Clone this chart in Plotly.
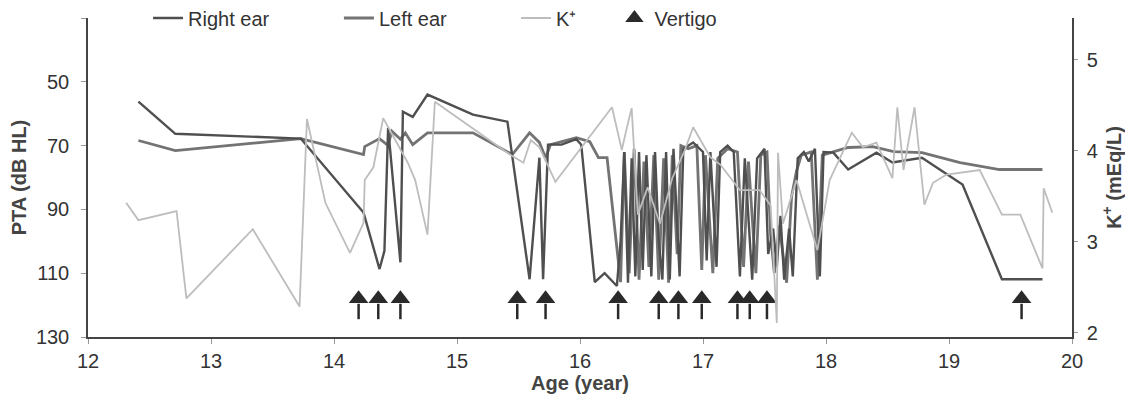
import plotly.graph_objects as go

# ---------------- data ----------------
RIGHT_AGE = [12.41, 12.71, 13.73, 14.24, 14.37, 14.41, 14.44, 14.54, 14.56, 14.64, 14.76, 15.13, 15.41,
             15.59, 15.67, 15.70, 15.74, 15.85, 15.97, 16.01, 16.12, 16.20, 16.30,
             16.33, 16.36, 16.39, 16.42, 16.45, 16.48, 16.51, 16.54, 16.58, 16.61, 16.64, 16.67, 16.70,
             16.73, 16.76, 16.81, 16.84, 16.92, 17.00, 17.03, 17.06, 17.11, 17.14, 17.20, 17.25, 17.30,
             17.34, 17.40, 17.44, 17.50, 17.53, 17.57, 17.60, 17.63, 17.66, 17.70, 17.73, 17.77, 17.82,
             17.86, 17.91, 17.95, 17.98, 18.06, 18.18, 18.41, 18.54, 18.78, 19.11, 19.43, 19.76]
RIGHT_PTA = [56.2, 66.3, 67.8, 91, 108.7, 103, 64.4, 106.6, 59.4, 61, 54, 60.3, 62.5,
             111.9, 73.8, 111.9, 69.7, 69.7, 68, 69.7, 112.8, 110, 114,
             100, 72, 113, 74, 111, 72, 109, 73, 111, 72, 100, 112, 72,
             112, 71, 111, 71, 69, 72, 106, 72, 108, 72, 70, 72, 111,
             74, 112, 74, 71, 104, 96, 108, 92, 112, 96, 111, 74, 72,
             75, 71, 111, 72, 72.2, 77.5, 72.2, 75.3, 73.8, 82.2, 111.9, 111.9]

LEFT_AGE = [12.41, 12.71, 13.73, 14.24, 14.25, 14.37, 14.44, 14.47, 14.54, 14.58, 14.64, 14.76, 15.13,
            15.45, 15.59, 15.67, 15.72, 15.76, 15.97, 16.08, 16.15, 16.22, 16.33, 16.36, 16.40, 16.44,
            16.48, 16.52, 16.56, 16.60, 16.64, 16.68, 16.72, 16.75, 16.79, 16.82, 16.88, 16.95, 16.99,
            17.02, 17.08, 17.12, 17.20, 17.28, 17.33, 17.37, 17.43, 17.47, 17.52, 17.55, 17.58, 17.62,
            17.68, 17.72, 17.76, 17.80, 17.88, 17.93, 17.97, 18.18, 18.38, 18.55, 18.78, 19.09, 19.41, 19.76]
LEFT_PTA = [68.4, 71.6, 67.8, 72.8, 70.3, 67.8, 70, 65.5, 68, 66, 69.7, 66, 66,
            72.8, 66, 69, 73.8, 69.7, 67.5, 68.8, 73.8, 73.8, 112.8, 72, 110, 71,
            112, 75, 108, 73, 112, 74, 113, 73, 104, 70, 71, 70, 109,
            73, 110, 74, 71, 72, 108, 75, 110, 73, 72, 98, 110, 95,
            113, 86, 78, 73, 72, 112, 73, 70.6, 70.3, 71.9, 72.2, 75.3, 77.5, 77.5]

K_AGE = [12.31, 12.41, 12.72, 12.80, 13.34, 13.72, 13.78, 13.93, 14.13, 14.24, 14.25, 14.32, 14.40,
         14.50, 14.60, 14.66, 14.76, 14.82, 15.43, 15.54, 15.60, 15.67, 15.80, 16.26, 16.34, 16.38,
         16.42, 16.47, 16.55, 16.65, 16.75, 16.85, 16.92, 17.06, 17.14, 17.30, 17.46, 17.55, 17.60,
         17.61, 17.65, 17.76, 17.93, 18.03, 18.21, 18.30, 18.41, 18.54, 18.58, 18.63, 18.72, 18.80,
         18.87, 18.98, 19.25, 19.43, 19.58, 19.76, 19.77, 19.84]
K_VAL = [3.43, 3.24, 3.34, 2.38, 3.14, 2.29, 4.35, 3.43, 2.88, 3.21, 3.68, 3.82, 4.36,
         4.12, 3.87, 3.68, 3.08, 4.54, 3.96, 3.87, 4.12, 4.04, 3.66, 4.48, 4.01, 4.25,
         4.47, 3.30, 3.60, 3.20, 3.70, 4.00, 4.26, 3.93, 3.85, 3.57, 3.57, 3.40, 2.11,
         3.98, 3.20, 3.68, 2.91, 3.68, 4.20, 4.04, 4.09, 3.70, 4.48, 3.79, 4.48, 3.41,
         3.65, 3.74, 3.79, 3.30, 3.30, 2.71, 3.59, 3.32]

VERTIGO_AGE = [14.20, 14.36, 14.54, 15.49, 15.72, 16.31, 16.64, 16.80, 16.99, 17.28, 17.38, 17.52, 19.59]

X_TICKS = [12, 13, 14, 15, 16, 17, 18, 19, 20]
PTA_TICKS = [30, 50, 70, 90, 110, 130]
PTA_TICK_LABELS = ["", "50", "70", "90", "110", "130"]
K_TICKS = [2, 3, 4, 5]

# ---------------- style ----------------
FONT = "Liberation Sans, Arial, sans-serif"
AXIS_COLOR = "#444444"
RIGHT_COLOR = "#4f4f4f"
LEFT_COLOR = "#737373"
K_COLOR = "#bdbdbd"
ARROW_COLOR = "#2a2a2a"
ARROW_HEAD_LEVEL = 118.0
ARROW_STEM_LEVEL = 122.0

fig = go.Figure()

fig.add_trace(go.Scatter(x=K_AGE, y=K_VAL, mode="lines", name="K\u207a", yaxis="y2",
                         line=dict(color=K_COLOR, width=1.8), legend="legend3"))
fig.add_trace(go.Scatter(x=LEFT_AGE, y=LEFT_PTA, mode="lines", name="Left ear",
                         line=dict(color=LEFT_COLOR, width=2.8), legend="legend2"))
fig.add_trace(go.Scatter(x=RIGHT_AGE, y=RIGHT_PTA, mode="lines", name="Right ear",
                         line=dict(color=RIGHT_COLOR, width=2.4), legend="legend"))
fig.add_trace(go.Scatter(x=VERTIGO_AGE, y=[ARROW_STEM_LEVEL] * len(VERTIGO_AGE), mode="markers",
                         showlegend=False, hoverinfo="skip",
                         marker=dict(symbol="line-ns-open", size=11, color=ARROW_COLOR,
                                     line=dict(color=ARROW_COLOR, width=2.5))))
fig.add_trace(go.Scatter(x=VERTIGO_AGE, y=[ARROW_HEAD_LEVEL] * len(VERTIGO_AGE), mode="markers",
                         name="Vertigo", legend="legend4",
                         marker=dict(symbol="triangle-up", size=17, color=ARROW_COLOR)))

leg_common = dict(orientation="h", y=1.0, yanchor="middle", xanchor="left",
                  font=dict(family=FONT, size=20, color="#333333"),
                  bgcolor="rgba(0,0,0,0)", borderwidth=0)

fig.update_layout(
    width=1133, height=405,
    margin=dict(l=80, r=69, t=10, b=76, autoexpand=False),
    paper_bgcolor="white", plot_bgcolor="white",
    font=dict(family=FONT, size=20, color="#333333"),
    legend=dict(x=0.061, **leg_common),
    legend2=dict(x=0.255, **leg_common),
    legend3=dict(x=0.435, **leg_common),
    legend4=dict(x=0.535, **leg_common),
    xaxis=dict(range=[12, 20], tickvals=X_TICKS, showgrid=False, zeroline=False,
               showline=True, linecolor=AXIS_COLOR, linewidth=1.5,
               ticks="outside", ticklen=5, tickcolor="#999999",
               tickfont=dict(size=20, family=FONT, color="#333333"),
               title=dict(text="<b>Age (year)</b>", font=dict(size=20, family=FONT, color="#444444"),
                          standoff=4)),
    yaxis=dict(range=[130, 30], tickvals=PTA_TICKS, ticktext=PTA_TICK_LABELS, showgrid=False,
               zeroline=False, showline=True, linecolor=AXIS_COLOR, linewidth=1.5,
               ticks="outside", ticklen=5, tickcolor="#999999", ticklabelstandoff=8,
               tickfont=dict(size=20, family=FONT, color="#333333"),
               title=dict(text="<b>PTA (dB HL)</b>", font=dict(size=20, family=FONT, color="#444444"),
                          standoff=8)),
    yaxis2=dict(range=[1.956, 5.46], tickvals=K_TICKS, overlaying="y", side="right",
                showgrid=False, zeroline=False, showline=True, linecolor=AXIS_COLOR, linewidth=1.5,
                ticks="outside", ticklen=4, tickcolor="#999999", ticklabelstandoff=5,
                tickfont=dict(size=20, family=FONT, color="#333333"),
                title=dict(text="<b>K<sup>+</sup> (mEq/L)</b>",
                           font=dict(size=20, family=FONT, color="#444444"), standoff=10)),
)

fig.write_html("out.html")
